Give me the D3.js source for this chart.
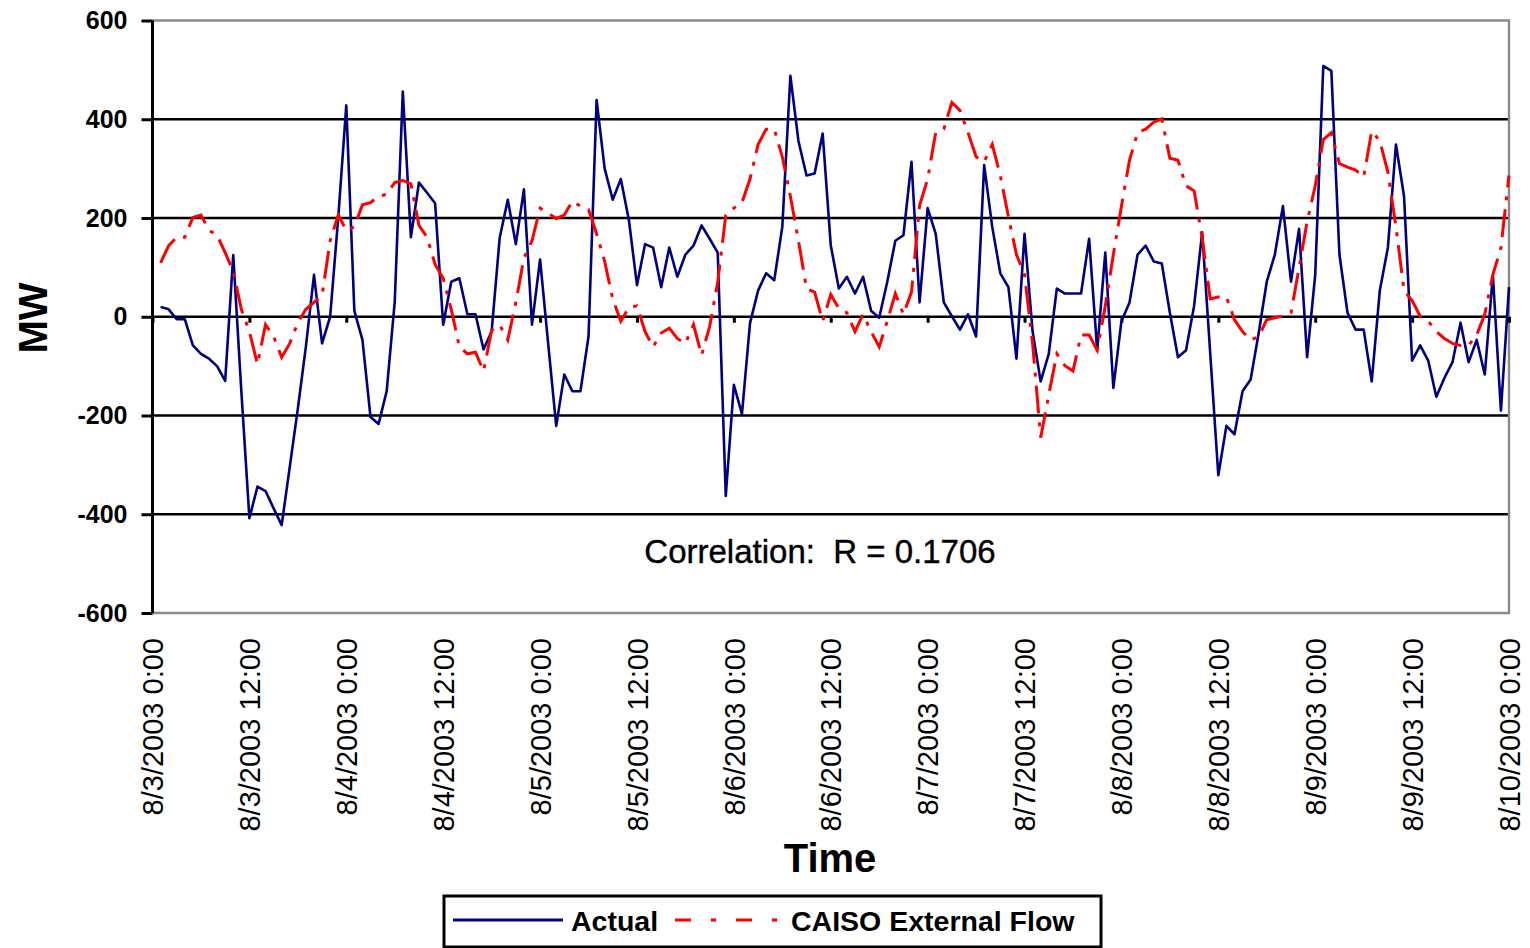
<!DOCTYPE html>
<html><head><meta charset="utf-8">
<script src="https://cdn.jsdelivr.net/npm/d3@7"></script>
<style>
body{margin:0;background:#fff}
svg{display:block}
text{font-family:"Liberation Sans",Arial,Helvetica,sans-serif}
</style>
</head><body>
<svg id="chart" width="1530" height="948"></svg>
<script>
// ---- data (hourly, hour-ending, 8/3/2003 1:00 .. 8/10/2003 0:00) ----
const startDate = new Date(2003, 7, 3, 0, 0);
const endDate = new Date(2003, 7, 10, 0, 0);
const actual = [
20,15,-5,-5,-58,-75,-85,-100,-130,125,
-150,-408,-344,-353,-388,-422,-304,-186,-60,85,
-54,0,200,428,12,-47,-203,-217,-151,30,
456,161,272,251,230,-16,71,78,5,5,
-66,-30,160,237,147,258,-16,116,-54,-221,
-117,-151,-151,-40,439,300,237,279,196,64,
147,140,60,140,81,126,144,185,158,130,
-363,-138,-197,-13,53,88,74,182,488,356,
286,290,371,145,57,81,47,81,12,-2,
71,154,165,314,29,220,168,29,1,-26,
5,-40,307,182,88,60,-85,168,-30,-131,
-75,57,47,47,47,158,-68,130,-144,-9,
29,126,144,112,108,8,-82,-68,22,171,
-75,-321,-221,-238,-151,-127,-33,71,126,224,
71,178,-82,85,508,498,126,8,-26,-26,
-131,53,140,349,244,-89,-58,-89,-162,-124,
-92,-12,-92,-47,-117,85,-190,60
];
const caiso = [
109,144,161,161,201,206,175,165,130,92,
15,-30,-96,-16,-40,-82,-54,-12,15,29,
43,154,206,175,182,227,231,244,248,272,
276,269,185,161,106,78,15,-61,-75,-72,
-110,-28,-17,-47,29,119,154,220,210,199,
206,234,224,217,168,112,36,-9,19,22,
-30,-61,-33,-23,-44,-54,-16,-78,-20,70,
206,220,231,279,349,380,380,324,244,154,
57,50,-9,45,17,8,-30,5,-30,-61,
-9,47,5,50,225,279,373,380,434,418,
373,324,314,349,286,203,126,85,-54,-245,
-158,-75,-99,-110,-37,-37,-68,22,126,224,
317,373,380,394,401,321,317,265,255,160,
36,40,40,-6,-30,-47,-40,-6,-2,1,
8,99,193,265,359,373,310,303,297,283,
376,356,293,182,53,33,1,-9,-30,-44,
-54,-58,-58,-37,5,85,140,286
];
const yTickValues = [-600,-400,-200,0,200,400,600];
const yTickLabels = ["-600","-400","-200","0","200","400","600"];
const xTickLabels = [
"8/3/2003 0:00","8/3/2003 12:00","8/4/2003 0:00","8/4/2003 12:00",
"8/5/2003 0:00","8/5/2003 12:00","8/6/2003 0:00","8/6/2003 12:00",
"8/7/2003 0:00","8/7/2003 12:00","8/8/2003 0:00","8/8/2003 12:00",
"8/9/2003 0:00","8/9/2003 12:00","8/10/2003 0:00"
];
const seriesNames = ["Actual","CAISO External Flow"];
const seriesColors = ["#000080","#ff0000"];
const yTitle = "MW";
const xTitle = "Time";
const correlationText = "Correlation:  R = 0.1706";

// ---- layout ----
const L = 152.5, R = 1509, T = 20.5, B = 613;
const svg = d3.select("#chart");
const x = d3.scaleTime().domain([startDate, endDate]).range([L, R]);
const y = d3.scaleLinear().domain([-600, 600]).range([B, T]);
const tickDates = d3.timeHour.every(12).range(startDate, d3.timeHour.offset(endDate, 1));
const times = actual.map((_, i) => d3.timeHour.offset(startDate, i + 1));

// gridlines
svg.append("g").selectAll("line").data(yTickValues.filter(v => v > -600 && v < 600))
  .join("line")
  .attr("x1", L).attr("x2", R)
  .attr("y1", d => y(d)).attr("y2", d => y(d))
  .attr("stroke", "#000").attr("stroke-width", 2.6);

// gray plot border (top, right, bottom)
svg.append("path")
  .attr("d", `M${L},${y(600)}H${R}V${y(-600)}H${L}`)
  .attr("fill", "none").attr("stroke", "#8a8a8a").attr("stroke-width", 2.4);

// x ticks on zero line
const xZero = d3.axisBottom(x).tickValues(tickDates).tickSize(6).tickFormat("");
const gz = svg.append("g").attr("transform", `translate(0,${y(0)})`).call(xZero);
gz.select(".domain").remove();
gz.selectAll(".tick line").attr("stroke", "#000").attr("stroke-width", 3);

// series
const line = d3.line().x((d, i) => x(times[i])).y(d => y(d));
svg.append("path").datum(actual)
  .attr("d", line).attr("fill", "none")
  .attr("stroke", seriesColors[0]).attr("stroke-width", 2.6)
  .attr("stroke-linejoin", "round");
svg.append("path").datum(caiso)
  .attr("d", line).attr("fill", "none")
  .attr("stroke", seriesColors[1]).attr("stroke-width", 3)
  .attr("stroke-dasharray", "28,9,4,9");

// y axis
const yAxis = d3.axisLeft(y).tickValues(yTickValues).tickSize(11).tickPadding(14)
  .tickFormat(d => yTickLabels[yTickValues.indexOf(d)]);
const gy = svg.append("g").attr("transform", `translate(${L},0)`).call(yAxis);
gy.select(".domain").attr("stroke", "#000").attr("stroke-width", 3)
  .attr("d", `M0,${T}V${B}`);
gy.selectAll(".tick line").attr("stroke", "#000").attr("stroke-width", 3);
gy.selectAll(".tick text")
  .attr("font-size", 25).attr("font-weight", "bold").attr("fill", "#000")
  .attr("font-family", "'Liberation Sans',Arial,sans-serif");

// x axis labels (bottom, rotated)
const xLab = d3.axisBottom(x).tickValues(tickDates).tickSize(0)
  .tickFormat((d, i) => xTickLabels[i]);
const gx = svg.append("g").attr("transform", `translate(0,${B})`).call(xLab);
gx.select(".domain").remove();
gx.selectAll(".tick text")
  .attr("font-size", 29).attr("fill", "#000")
  .attr("font-family", "'Liberation Sans',Arial,sans-serif")
  .attr("text-anchor", "end")
  .attr("transform", "translate(0,25) rotate(-90)")
  .attr("x", 0).attr("y", 0).attr("dy", "0.35em");

// titles
svg.append("text")
  .attr("transform", "translate(47,318) rotate(-90)")
  .attr("text-anchor", "middle").attr("font-size", 40).attr("font-weight", "bold")
  .text(yTitle);
svg.append("text")
  .attr("x", 830).attr("y", 872)
  .attr("text-anchor", "middle").attr("font-size", 40).attr("font-weight", "bold")
  .text(xTitle);
svg.append("text")
  .attr("x", 820).attr("y", 563)
  .attr("text-anchor", "middle").attr("font-size", 33)
  .attr("stroke", "#000").attr("stroke-width", 0.4)
  .style("white-space", "pre")
  .text(correlationText);

// legend
const lg = svg.append("g");
lg.append("rect").attr("x", 444).attr("y", 896).attr("width", 657).attr("height", 51)
  .attr("fill", "#fff").attr("stroke", "#000").attr("stroke-width", 3);
const legendItems = [
  {name: seriesNames[0], color: seriesColors[0], x1: 453, x2: 563, tx: 571, dash: null, w: 3},
  {name: seriesNames[1], color: seriesColors[1], x1: 675, x2: 777, tx: 791, dash: "16,20,5,20", w: 3.2}
];
legendItems.forEach(it => {
  lg.append("line").attr("x1", it.x1).attr("x2", it.x2).attr("y1", 920).attr("y2", 920)
    .attr("stroke", it.color).attr("stroke-width", it.w)
    .attr("stroke-dasharray", it.dash);
  lg.append("text").attr("x", it.tx).attr("y", 931)
    .attr("font-size", 28.5).attr("font-weight", "bold").text(it.name);
});
</script>
</body></html>
